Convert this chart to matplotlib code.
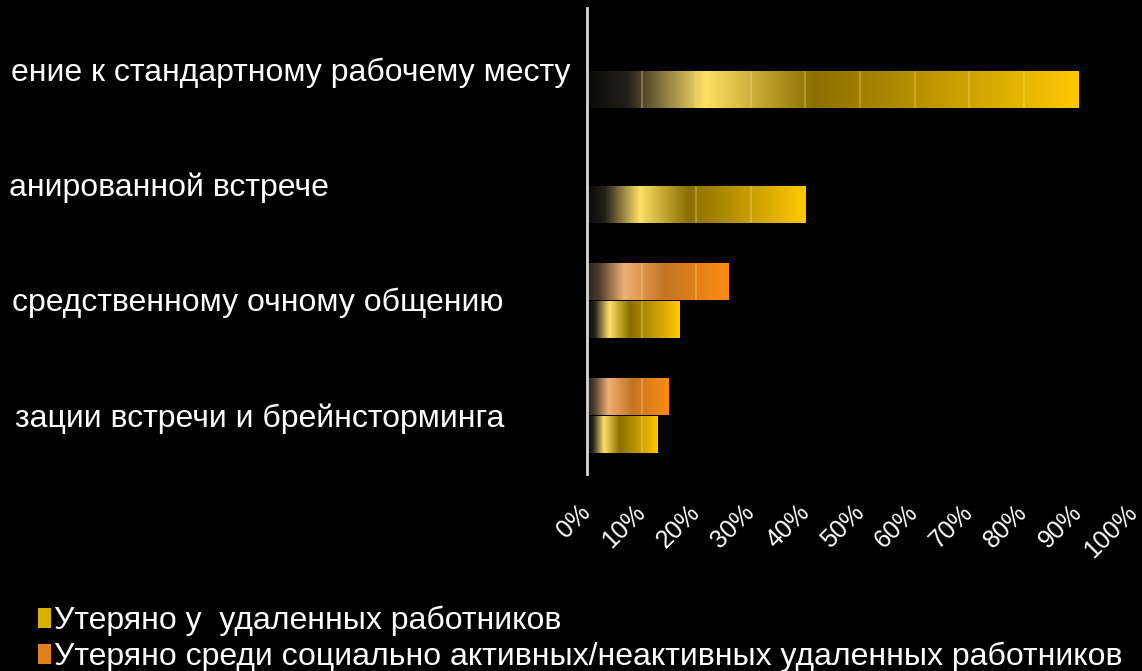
import numpy as np
import matplotlib.pyplot as plt
import matplotlib.transforms as mtransforms
from matplotlib.colors import LinearSegmentedColormap
from matplotlib.patches import Patch

plt.rcParams['font.family'] = ['Liberation Sans', 'DejaVu Sans']

# data; left part of the category labels is cut off in the source
categories = ["ение к стандартному рабочему месту",
              "анированной встрече",
              "средственному очному общению",
              "зации встречи и брейнсторминга"]
remote = [0.90, 0.40, 0.17, 0.13]          # yellow bars
social = [np.nan, np.nan, 0.26, 0.15]      # orange bars
series_names = ["Утеряно у  удаленных работников",
                "Утеряно среди социально активных/неактивных удаленных работников"]
xticks = [0.0, 0.1, 0.2, 0.3, 0.4, 0.5, 0.6, 0.7, 0.8, 0.9, 1.0]
xtick_labels = ["0%", "10%", "20%", "30%", "40%", "50%", "60%", "70%", "80%", "90%", "100%"]

# where each label starts, in pixels from the left edge
label_px = [11, 9, 12, 15]

gold = LinearSegmentedColormap.from_list('gold', [
    (0.00, '#0a0a08'), (0.08, '#22201a'), (0.24, '#ffe066'),
    (0.46, '#8a6e00'), (1.00, '#ffc800')])
copper = LinearSegmentedColormap.from_list('copper', [
    (0.00, '#2a2520'), (0.08, '#4a3a2c'), (0.26, '#f0b070'),
    (0.55, '#c47424'), (1.00, '#ff8c10')])

W, H = 1142, 671
fig = plt.figure(figsize=(W / 100, H / 100), dpi=100, facecolor='black')
ax = fig.add_axes([587 / W, 1 - 474 / H, (1133 - 587) / W, (474 - 8) / H])
ax.set_facecolor('black')

bar_h = 0.32
off = 0.165
grad = np.linspace(0, 1, 256).reshape(1, -1)


def gradient_bar(y, val, cmap):
    ax.imshow(grad, cmap=cmap, aspect='auto', interpolation='bicubic',
              extent=(0, val, y + bar_h / 2, y - bar_h / 2), zorder=2)
    inner = [t for t in xticks if 0 < t < val]
    ax.vlines(inner, y - bar_h / 2, y + bar_h / 2, color='#ffe680',
              alpha=0.3, lw=1.5, zorder=3)


for i in range(len(categories)):
    if not np.isnan(social[i]):
        gradient_bar(i - off, social[i], copper)
    if not np.isnan(remote[i]):
        gradient_bar(i + off, remote[i], gold)

ax.set_xlim(0, 1)
ax.set_ylim(3.51, -0.54)

for s in ['top', 'right', 'bottom']:
    ax.spines[s].set_visible(False)
ax.spines['left'].set_color('#d8d8d8')
ax.spines['left'].set_linewidth(2)
ax.spines['left'].set_zorder(5)
ax.set_yticks([])

ax.set_xticks(xticks)
ax.set_xticklabels(xtick_labels, rotation=45, ha='right', va='center',
                   rotation_mode='anchor', color='white', fontsize=18)
ax.tick_params(axis='x', length=0, pad=25)

# category labels, left aligned near the figure edge
trans = mtransforms.blended_transform_factory(fig.transFigure, ax.transData)
trans = mtransforms.offset_copy(trans, fig=fig, y=-3, units='dots')
for i, lab in enumerate(categories):
    fig.text(label_px[i] / W, i, lab, transform=trans, ha='left', va='center',
             color='white', fontsize=23)

handles = [Patch(facecolor='#d8b000', edgecolor='none'),
           Patch(facecolor='#e0801a', edgecolor='none')]
fig.legend(handles, series_names, loc='upper left',
           bbox_to_anchor=(38 / W, 1 - 606 / H), frameon=False,
           fontsize=23, labelcolor='white', handlelength=0.4,
           handleheight=0.55, handletextpad=0.1, labelspacing=0.17,
           borderpad=0, borderaxespad=0)

fig.savefig('out.png', dpi=100, facecolor='black')
